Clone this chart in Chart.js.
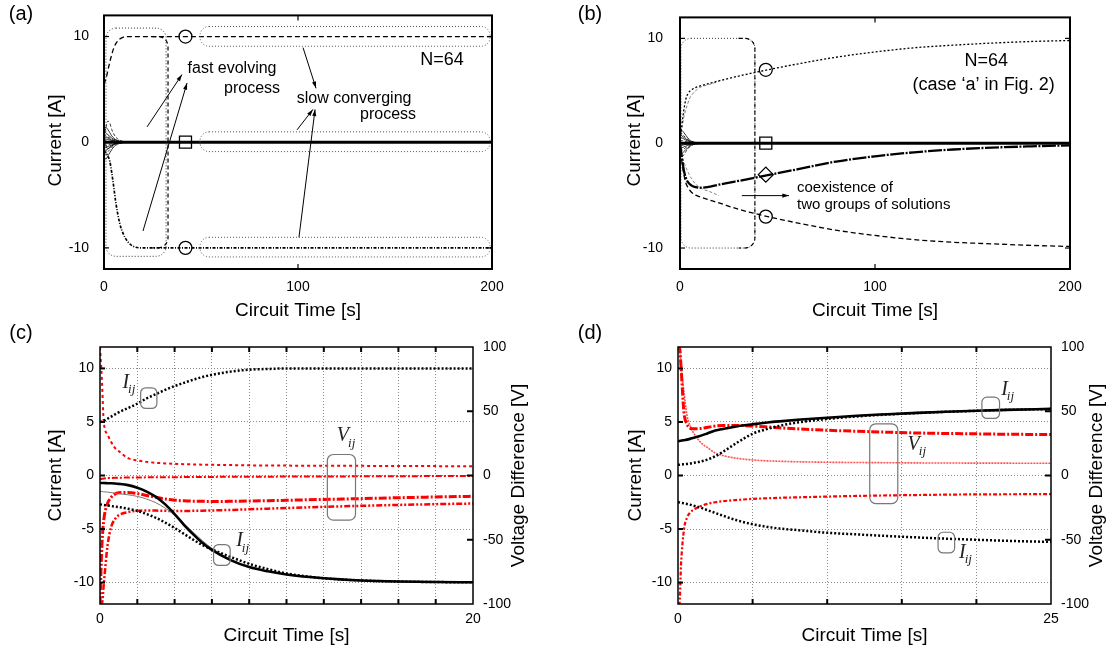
<!DOCTYPE html>
<html>
<head>
<meta charset="utf-8">
<title>Current and voltage transients</title>
<script src="https://cdn.jsdelivr.net/npm/chart.js@4.4.1/dist/chart.umd.min.js"></script>
<style>
  body { margin: 0; background: #fff; overflow: hidden; }
  .panel { position: absolute; }
</style>
</head>
<body>
<div class="panel" style="left:0;top:0;width:555px;height:330px"><canvas id="chartA"></canvas></div>
<div class="panel" style="left:555px;top:0;width:554px;height:330px"><canvas id="chartB"></canvas></div>
<div class="panel" style="left:0;top:310px;width:555px;height:341px"><canvas id="chartC"></canvas></div>
<div class="panel" style="left:555px;top:310px;width:554px;height:341px"><canvas id="chartD"></canvas></div>
<script>
// ---------- data ----------

// panel (a), N=64
const tA = [0, 1, 2, 3, 4, 5, 6, 8, 10, 12, 15, 20, 30, 50, 100, 150, 200];
const aUpper = [5.5, 6.0, 6.8, 7.6, 8.3, 8.9, 9.3, 9.75, 9.95, 10, 10, 10, 10, 10, 10, 10, 10];
const aLower = [-0.8, -1.0, -1.3, -1.8, -2.9, -4.2, -5.6, -7.6, -8.7, -9.35, -9.85, -10, -10, -10, -10, -10, -10];
const aZero = [0, 0, 0, 0, 0, 0, 0, 0, 0, 0, 0, 0, 0, 0, 0, 0, 0];

// early transients that die out near zero (a few of the 64)
const tT = [0, 1, 2, 3, 4, 5, 6, 8, 10, 12, 15, 20];
const aTrans = [
  [0.5, 1.4, 2.0, 1.8, 1.2, 0.8, 0.5, 0.2, 0.08, 0.03, 0, 0],
  [1.3, 1.4, 1.2, 0.9, 0.6, 0.4, 0.25, 0.1, 0.04, 0.01, 0, 0],
  [1.0, 0.9, 0.7, 0.55, 0.4, 0.3, 0.2, 0.08, 0.03, 0.01, 0, 0],
  [0.8, 0.6, 0.5, 0.4, 0.3, 0.2, 0.12, 0.05, 0.02, 0, 0, 0],
  [0.4, 0.5, 0.4, 0.3, 0.2, 0.15, 0.1, 0.04, 0.02, 0, 0, 0],
  [0.2, 0.3, 0.25, 0.2, 0.15, 0.1, 0.06, 0.03, 0.01, 0, 0, 0],
  [-0.2, -0.3, -0.25, -0.2, -0.15, -0.1, -0.06, -0.03, -0.01, 0, 0, 0],
  [-0.5, -0.5, -0.4, -0.35, -0.25, -0.18, -0.1, -0.05, -0.02, 0, 0, 0],
  [-0.9, -0.8, -0.65, -0.5, -0.35, -0.25, -0.15, -0.06, -0.02, 0, 0, 0],
  [-1.2, -1.1, -0.9, -0.7, -0.5, -0.35, -0.2, -0.08, -0.03, 0, 0, 0],
  [-1.5, -1.6, -1.3, -1.0, -0.7, -0.45, -0.3, -0.12, -0.05, -0.02, 0, 0],
  [0.9, -0.3, -0.6, -0.5, -0.35, -0.2, -0.12, -0.05, -0.02, 0, 0, 0]
];
const circAx = [42, 42];
const circAy = [10, -10];
const sqAx = [42];
const sqAy = [0];

// panel (b), N=64 case 'a'
const tB = [0, 1, 2, 3, 4, 6, 8, 10, 14, 20, 30, 45, 60, 80, 100, 120, 140, 160, 180, 200];
const bUpper = [0, 1.8, 3.2, 4.2, 4.7, 5.1, 5.3, 5.45, 5.65, 5.95, 6.4, 7.0, 7.55, 8.2, 8.7, 9.1, 9.35, 9.55, 9.7, 9.8];
const bLower = [0, -1.8, -3.0, -3.8, -4.2, -4.7, -4.95, -5.1, -5.35, -5.7, -6.3, -7.0, -7.6, -8.3, -8.8, -9.2, -9.45, -9.6, -9.75, -9.85];
const bMid = [0, -1.4, -2.6, -3.3, -3.7, -4.05, -4.2, -4.25, -4.2, -3.95, -3.6, -3.05, -2.5, -1.75, -1.25, -0.87, -0.6, -0.42, -0.3, -0.2];
const bZero = [0, 0, 0, 0, 0, 0, 0, 0, 0, 0, 0, 0, 0, 0, 0, 0, 0, 0, 0, 0];
const bTrans = [
  [1.1, 0.9, 0.7, 0.5, 0.35, 0.25, 0.15, 0.06, 0.02, 0.01, 0, 0],
  [0.8, 0.7, 0.55, 0.4, 0.3, 0.2, 0.12, 0.05, 0.02, 0, 0, 0],
  [0.5, 0.5, 0.4, 0.3, 0.2, 0.14, 0.08, 0.03, 0.01, 0, 0, 0],
  [0.2, 0.25, 0.2, 0.15, 0.1, 0.07, 0.04, 0.02, 0, 0, 0, 0],
  [-0.2, -0.2, -0.15, -0.12, -0.08, -0.05, -0.03, -0.01, 0, 0, 0, 0],
  [-0.5, -0.45, -0.35, -0.28, -0.2, -0.13, -0.08, -0.03, -0.01, 0, 0, 0],
  [-0.8, -0.7, -0.55, -0.42, -0.3, -0.2, -0.12, -0.05, -0.02, 0, 0, 0],
  [-1.1, -1.0, -0.8, -0.6, -0.45, -0.3, -0.18, -0.07, -0.03, -0.01, 0, 0],
  [0.9, 1.2, 1.0, 0.75, 0.5, 0.3, 0.18, 0.07, 0.03, 0.01, 0, 0],
  [-0.9, -1.3, -1.1, -0.8, -0.55, -0.35, -0.2, -0.08, -0.03, -0.01, 0, 0]
];
const bGhostUp = [0.5, 1.5, 2.5, 3.2, 3.8, 4.3, 4.6, 5.0, 5.3, 5.45, 5.6, 5.9];
const bGhostDown = [-0.5, -1.2, -1.8, -2.3, -2.7, -3.1, -3.4, -3.9, -4.2, -4.4, -4.6, -5.0];
const circBx = [44, 44];
const circBy = [7, -7];
const sqBx = [44];
const sqBy = [0];
const diaBx = [44];
const diaBy = [-3];

// panel (c): currents [A] and voltage differences [V]
const tC = [0, 0.1, 0.2, 0.4, 0.6, 0.8, 1, 1.5, 2, 2.5, 3, 3.5, 4, 4.5, 5, 5.5, 6, 7, 8, 9, 10, 12, 14, 16, 18, 20];
const cUp = [5.0, 5.05, 5.1, 5.3, 5.5, 5.7, 5.9, 6.3, 6.7, 7.2, 7.6, 8.0, 8.35, 8.65, 8.95, 9.2, 9.4, 9.7, 9.88, 9.95, 10, 10, 10, 10, 10, 10];
const cSolid = [-0.7, -0.7, -0.7, -0.72, -0.73, -0.75, -0.78, -0.9, -1.15, -1.5, -2.0, -2.7, -3.6, -4.6, -5.5, -6.3, -6.95, -7.9, -8.55, -8.95, -9.25, -9.6, -9.8, -9.9, -9.95, -9.97];
const cThin = [-1.5, -1.5, -1.52, -1.55, -1.6, -1.65, -1.7, -1.8, -1.95, -2.2, -2.55, -3.05, -3.7, -4.5, -5.3, -6.1, -6.8, -7.85, -8.55, -8.95, -9.25, -9.6, -9.8, -9.9, -9.95, -9.97];
const cDot = [-2.7, -2.72, -2.75, -2.8, -2.85, -2.9, -2.95, -3.1, -3.3, -3.6, -3.95, -4.4, -4.9, -5.45, -6.0, -6.5, -6.9, -7.6, -8.25, -8.75, -9.15, -9.6, -9.8, -9.9, -9.95, -9.97];
const cV1 = [100, 75, 42, 32, 26, 21.5, 19, 13.5, 11.8, 10.6, 9.9, 9.4, 9.1, 8.8, 8.6, 8.4, 8.3, 8.1, 7.9, 7.8, 7.7, 7.6, 7.5, 7.4, 7.3, 7.2];
const cV2 = [-3, -2.6, -2.3, -2.0, -1.9, -1.8, -1.7, -1.6, -1.5, -1.45, -1.4, -1.35, -1.3, -1.25, -1.2, -1.15, -1.1, -1.0, -0.95, -0.9, -0.85, -0.75, -0.65, -0.55, -0.45, -0.4];
const cV3 = [-100, -55, -35, -22, -17, -14.5, -13.5, -13.2, -14, -15.5, -17, -18.3, -19.2, -19.7, -20, -20.1, -20.2, -20.1, -19.9, -19.6, -19.3, -18.6, -18, -17.3, -16.7, -16.2];
const cV4 = [-100, -100, -85, -55, -40, -34, -31, -28.5, -27.5, -27.2, -27.3, -27.5, -27.6, -27.6, -27.5, -27.4, -27.2, -26.8, -26.3, -25.8, -25.3, -24.4, -23.6, -22.9, -22.3, -21.8];

// panel (d)
const tD = [0, 0.1, 0.2, 0.4, 0.6, 0.8, 1, 1.5, 2, 2.5, 3, 4, 5, 6, 7, 8, 10, 12, 14, 16, 18, 20, 22, 25];
const dSolid = [3.2, 3.22, 3.25, 3.3, 3.35, 3.42, 3.5, 3.7, 3.95, 4.2, 4.35, 4.6, 4.78, 4.95, 5.08, 5.2, 5.4, 5.58, 5.72, 5.85, 5.96, 6.05, 6.13, 6.22];
const dDot = [1.0, 1.0, 1.02, 1.05, 1.08, 1.12, 1.17, 1.3, 1.5, 1.8, 2.2, 3.1, 3.9, 4.35, 4.7, 4.95, 5.28, 5.52, 5.69, 5.83, 5.95, 6.04, 6.13, 6.2];
const dLow = [-2.5, -2.52, -2.55, -2.6, -2.66, -2.72, -2.8, -3.0, -3.25, -3.5, -3.75, -4.2, -4.55, -4.8, -4.98, -5.1, -5.35, -5.5, -5.65, -5.78, -5.9, -6.0, -6.1, -6.2];
const dV1 = [100, 100, 85, 49, 40, 37, 36.3, 36.5, 37.5, 38.5, 38.9, 38.9, 38.5, 37.8, 37, 36.3, 35.2, 34.4, 33.7, 33.1, 32.7, 32.4, 32.1, 31.9];
const dV2 = [100, 100, 85, 65, 47, 39, 34, 26, 21.5, 17.5, 15.5, 13.3, 12.1, 11.4, 11, 10.7, 10.3, 10.1, 9.95, 9.8, 9.7, 9.65, 9.6, 9.5];
const dV3 = [-100, -100, -70, -42, -33, -29, -27, -24, -22, -20.8, -20, -19, -18.2, -17.7, -17.3, -17, -16.4, -15.9, -15.5, -15.2, -14.9, -14.7, -14.6, -14.5];

// ticks
const abXTicks = [0, 100, 200];
const abYTicks = [-10, 0, 10];
const cXTicks = [0, 2, 4, 6, 8, 10, 12, 14, 16, 18, 20];
const cXLabels = [0, 20];
const dXTicks = [0, 5, 10, 15, 20, 25];
const dXLabels = [0, 25];
const cdYTicks = [-10, -5, 0, 5, 10];
const vTicks = [-100, -50, 0, 50, 100];

// ---------- chart setup ----------
Chart.defaults.font.family = '"Liberation Sans", Arial, sans-serif';
Chart.defaults.font.size = 14;
Chart.defaults.color = '#000';
Chart.defaults.animation = false;
Chart.defaults.events = [];
Chart.defaults.plugins.legend.display = false;
Chart.defaults.plugins.tooltip.enabled = false;

const FONT = '"Liberation Sans", Arial, sans-serif';
const SERIF = '"Liberation Serif", "DejaVu Serif", serif';

function xy(xs, ys) {
  return xs.map((x, i) => ({ x: x, y: ys[i] }));
}

function curve(xs, ys, color, width, dash, axis) {
  return {
    data: xy(xs, ys),
    borderColor: color,
    borderWidth: width,
    borderDash: dash || [],
    pointRadius: 0,
    fill: false,
    cubicInterpolationMode: 'monotone',
    yAxisID: axis || 'y'
  };
}

function marks(xs, ys, style, r) {
  return {
    data: xy(xs, ys),
    showLine: false,
    pointStyle: style,
    pointRadius: r,
    pointBorderWidth: 1.3,
    pointBorderColor: '#000',
    pointBackgroundColor: 'rgba(0,0,0,0)'
  };
}

function roundPath(ctx, xa, ya, xb, yb, r, side) {
  const l = Math.min(xa, xb), rt = Math.max(xa, xb);
  const t = Math.min(ya, yb), b = Math.max(ya, yb);
  if (side === 'right') {
    ctx.moveTo(l, t);
    ctx.arcTo(rt, t, rt, b, r);
    ctx.arcTo(rt, b, l, b, r);
    ctx.lineTo(l, b);
    return;
  }
  ctx.moveTo(l + r, t);
  ctx.arcTo(rt, t, rt, b, r);
  ctx.arcTo(rt, b, l, b, r);
  ctx.arcTo(l, b, l, t, r);
  ctx.arcTo(l, t, rt, t, r);
  ctx.closePath();
}

// frame, inward ticks, titles and the annotations
function decor(spec) {
  return {
    id: 'decor',
    afterDraw(chart) {
      const ctx = chart.ctx;
      const a = chart.chartArea;
      const sx = chart.scales.x, sy = chart.scales.y, sv = chart.scales.y2;
      const X = v => sx.getPixelForValue(v);
      const Y = v => sy.getPixelForValue(v);
      const seg = (x0, y0, x1, y1) => { ctx.beginPath(); ctx.moveTo(x0, y0); ctx.lineTo(x1, y1); ctx.stroke(); };
      ctx.save();

      (spec.rects || []).forEach(r => {
        ctx.beginPath();
        ctx.setLineDash(r.dash || []);
        ctx.lineWidth = r.lw || 1;
        ctx.strokeStyle = r.color || '#000';
        roundPath(ctx, X(r.x0), Y(r.y0), X(r.x1), Y(r.y1), r.r, r.side);
        ctx.stroke();
      });

      ctx.setLineDash([]);
      ctx.strokeStyle = '#000';
      ctx.fillStyle = '#000';
      (spec.arrows || []).forEach(p => {
        const x0 = X(p.x0), y0 = Y(p.y0), x1 = X(p.x1), y1 = Y(p.y1);
        ctx.lineWidth = 1;
        seg(x0, y0, x1, y1);
        const ang = Math.atan2(y1 - y0, x1 - x0);
        ctx.beginPath();
        ctx.moveTo(x1, y1);
        ctx.lineTo(x1 - 7 * Math.cos(ang - 0.3), y1 - 7 * Math.sin(ang - 0.3));
        ctx.lineTo(x1 - 7 * Math.cos(ang + 0.3), y1 - 7 * Math.sin(ang + 0.3));
        ctx.closePath();
        ctx.fill();
      });

      // frame
      ctx.lineWidth = spec.frame;
      ctx.strokeRect(a.left, a.top, a.right - a.left, a.bottom - a.top);

      // inward tick marks
      ctx.lineWidth = spec.tickW;
      sx.ticks.forEach(t => {
        const px = X(t.value);
        if (px < a.left + 2 || px > a.right - 2) return;
        seg(px, a.bottom, px, a.bottom - 5);
        seg(px, a.top, px, a.top + 5);
      });
      sy.ticks.forEach(t => {
        const py = Y(t.value);
        seg(a.left, py, a.left + 5, py);
        if (!sv) seg(a.right, py, a.right - 5, py);
      });
      if (sv) {
        sv.ticks.forEach(t => {
          const py = sv.getPixelForValue(t.value);
          if (py < a.top + 2 || py > a.bottom - 2) return;
          seg(a.right, py, a.right - 6, py);
        });
      }

      ctx.textBaseline = 'middle';
      (spec.texts || []).forEach(t => {
        ctx.font = t.size + 'px ' + FONT;
        ctx.textAlign = t.align || 'center';
        ctx.fillText(t.text, X(t.x), Y(t.y));
      });

      ctx.fillStyle = '#222';
      (spec.syms || []).forEach(s => {
        const px = X(s.x), py = Y(s.y);
        ctx.textAlign = 'left';
        ctx.font = 'italic 20px ' + SERIF;
        ctx.fillText(s.main, px, py);
        const w = ctx.measureText(s.main).width;
        ctx.font = 'italic 13px ' + SERIF;
        ctx.fillText(s.sub, px + w - 1, py + 7);
      });

      ctx.fillStyle = '#000';
      ctx.textAlign = 'center';
      (spec.titles || []).forEach(t => {
        ctx.save();
        ctx.translate(t.px, t.py);
        if (t.rot) ctx.rotate(-Math.PI / 2);
        ctx.font = t.size + 'px ' + FONT;
        ctx.fillText(t.text, 0, 0);
        ctx.restore();
      });
      ctx.restore();
    }
  };
}

function scalesFor(box, xmax, xTicks, xLabels, yTicks, withGrid, withV) {
  const gridColor = '#8a8a8a';
  const sc = {
    x: {
      type: 'linear', min: 0, max: xmax,
      afterBuildTicks: s => { s.ticks = xTicks.map(v => ({ value: v })); },
      afterFit: s => { s.height = box.h - box.bottom; },
      ticks: { padding: box.xpad, maxRotation: 0, autoSkip: false,
               callback: v => (xLabels.includes(v) ? v : '') },
      grid: withGrid
        ? { drawTicks: false, color: c => (c.tick && c.tick.value > 0 && c.tick.value < xmax ? gridColor : 'rgba(0,0,0,0)') }
        : { display: false },
      border: { display: false, dash: [1, 2] }
    },
    y: {
      min: -12, max: 12,
      afterBuildTicks: s => { s.ticks = yTicks.map(v => ({ value: v })); },
      afterFit: s => { s.width = box.left; },
      ticks: { padding: box.ypad },
      grid: withGrid ? { drawTicks: false, color: gridColor } : { display: false },
      border: { display: false, dash: [1, 2] }
    }
  };
  if (withV) {
    sc.y2 = {
      position: 'right', min: -100, max: 100,
      afterBuildTicks: s => { s.ticks = vTicks.map(v => ({ value: v })); },
      afterFit: s => { s.width = box.w - box.right; },
      ticks: { padding: 2 },
      grid: { display: false },
      border: { display: false }
    };
  }
  return sc;
}

const boxA = { w: 555, h: 330, left: 104, right: 492, top: 12, bottom: 269, xpad: 2, ypad: 7 };
const boxB = { w: 554, h: 330, left: 125, right: 515, top: 12, bottom: 269, xpad: 2, ypad: 9 };
const boxC = { w: 555, h: 341, left: 100, right: 473, top: 37, bottom: 294, xpad: 7, ypad: 6 };
const boxD = { w: 554, h: 341, left: 123, right: 496, top: 37, bottom: 294, xpad: 7, ypad: 6 };

function pad(box, withV) {
  return { top: box.top, left: 0, bottom: 0, right: withV ? 0 : box.w - box.right };
}

// (a)
new Chart(document.getElementById('chartA'), {
  type: 'line',
  data: {
    datasets: [
      marks(circAx, circAy, 'circle', 6.5),
      marks(sqAx, sqAy, 'rect', 8.5),
      curve(tA, aZero, '#000', 3),
      curve(tA, aUpper, '#000', 1.3, [5, 3]),
      curve(tA, aLower, '#000', 1.7, [3, 1.5, 1, 1.5])
    ].concat(aTrans.map((v, i) => curve(tT, v, '#000', 0.8, i % 3 === 0 ? [3, 2] : [])))
  },
  options: {
    responsive: true, maintainAspectRatio: false,
    layout: { padding: pad(boxA, false) },
    scales: scalesFor(boxA, 200, abXTicks, abXTicks, abYTicks, false, false)
  },
  plugins: [decor({
    frame: 2, tickW: 1.2,
    rects: [
      { x0: 1, x1: 32, y0: 10.8, y1: -10.8, r: 10, dash: [1, 2], color: '#333' },
      { x0: 25, x1: 33, y0: 10, y1: -10, r: 10, dash: [4, 3], side: 'right', lw: 1.2 },
      { x0: 49.5, x1: 199, y0: 10.95, y1: 9.08, r: 9, dash: [1, 2], color: '#555' },
      { x0: 49.5, x1: 199, y0: 0.98, y1: -0.89, r: 9, dash: [1, 2], color: '#555' },
      { x0: 49.5, x1: 199, y0: -9.0, y1: -10.86, r: 9, dash: [1, 2], color: '#555' }
    ],
    arrows: [
      { x0: 22.2, y0: 1.45, x1: 40.2, y1: 6.4 },
      { x0: 20.1, y0: -8.4, x1: 42.8, y1: 5.6 },
      { x0: 102.6, y0: 8.95, x1: 109.3, y1: 5.1 },
      { x0: 99.5, y0: 1.17, x1: 107.7, y1: 3.1 },
      { x0: 100.5, y0: -9.0, x1: 108.8, y1: 3.1 }
    ],
    texts: [
      { x: 66, y: 7.0, text: 'fast evolving', size: 16 },
      { x: 76.3, y: 5.1, text: 'process', size: 16 },
      { x: 128.9, y: 4.16, text: 'slow converging', size: 16 },
      { x: 146.4, y: 2.57, text: 'process', size: 16 },
      { x: 174.2, y: 7.8, text: 'N=64', size: 18 }
    ],
    titles: [
      { text: 'Current [A]', px: 56, py: 140.5, rot: true, size: 19 },
      { text: 'Circuit Time [s]', px: 298, py: 311, size: 19 },
      { text: '(a)', px: 21, py: 14, size: 20 }
    ]
  })]
});

// (b)
new Chart(document.getElementById('chartB'), {
  type: 'line',
  data: {
    datasets: [
      marks(circBx, circBy, 'circle', 6.5),
      marks(sqBx, sqBy, 'rect', 8.5),
      marks(diaBx, diaBy, 'rectRot', 7.5),
      curve(tB, bZero, '#000', 3),
      curve(tB, bMid, '#000', 2.3, [14, 1.5, 2, 1.5]),
      curve(tB, bUpper, '#000', 1.3, [2, 2]),
      curve(tB, bLower, '#000', 1.3, [5, 3]),
      curve(tT, bGhostUp, '#666', 0.8, [3, 2]),
      curve(tT, bGhostDown, '#666', 0.8, [3, 2])
    ].concat(bTrans.map((v, i) => curve(tT, v, '#000', 0.8, i % 3 === 0 ? [3, 2] : [])))
  },
  options: {
    responsive: true, maintainAspectRatio: false,
    layout: { padding: pad(boxB, false) },
    scales: scalesFor(boxB, 200, abXTicks, abXTicks, abYTicks, false, false)
  },
  plugins: [decor({
    frame: 2, tickW: 1.2,
    rects: [
      { x0: 0.5, x1: 38.4, y0: 10, y1: -10, r: 10, dash: [1, 2], color: '#333' },
      { x0: 30, x1: 38.4, y0: 10, y1: -10, r: 10, dash: [4, 3], side: 'right', lw: 1.1 }
    ],
    arrows: [
      { x0: 31.7, y0: -5.0, x1: 55.9, y1: -5.0 }
    ],
    texts: [
      { x: 157, y: 7.8, text: 'N=64', size: 18 },
      { x: 155.7, y: 5.58, text: '(case \u2018a\u2019 in Fig. 2)', size: 18 },
      { x: 60, y: -4.24, text: 'coexistence of', size: 15, align: 'left' },
      { x: 60, y: -5.86, text: 'two groups of solutions', size: 15, align: 'left' }
    ],
    titles: [
      { text: 'Current [A]', px: 80, py: 140.5, rot: true, size: 19 },
      { text: 'Circuit Time [s]', px: 320, py: 311, size: 19 },
      { text: '(b)', px: 35, py: 14, size: 20 }
    ]
  })]
});

// (c)
new Chart(document.getElementById('chartC'), {
  type: 'line',
  data: {
    datasets: [
      curve(tC, cUp, '#000', 2.5, [2, 2]),
      curve(tC, cSolid, '#000', 2.6),
      curve(tC, cThin, '#777', 1),
      curve(tC, cDot, '#000', 2.5, [2, 2]),
      curve(tC, cV1, '#ff0000', 2, [3, 3], 'y2'),
      curve(tC, cV2, '#ff0000', 2, [6, 2, 2, 2], 'y2'),
      curve(tC, cV3, '#ff0000', 3, [8, 2, 2, 2], 'y2'),
      curve(tC, cV4, '#ff0000', 2.5, [6, 2, 2, 2, 2, 2], 'y2')
    ]
  },
  options: {
    responsive: true, maintainAspectRatio: false,
    layout: { padding: pad(boxC, true) },
    scales: scalesFor(boxC, 20, cXTicks, cXLabels, cdYTicks, true, true)
  },
  plugins: [decor({
    frame: 1.5, tickW: 2,
    rects: [
      { x0: 2.18, x1: 3.05, y0: 8.19, y1: 6.26, r: 5, color: '#777', lw: 1.2 },
      { x0: 12.19, x1: 13.7, y0: 1.96, y1: -4.17, r: 6, color: '#777', lw: 1.2 },
      { x0: 6.09, x1: 6.98, y0: -6.45, y1: -8.4, r: 5, color: '#777', lw: 1.2 }
    ],
    syms: [
      { x: 1.2, y: 8.66, main: 'I', sub: 'ij' },
      { x: 12.7, y: 3.68, main: 'V', sub: 'ij' },
      { x: 7.3, y: -6.14, main: 'I', sub: 'ij' }
    ],
    titles: [
      { text: 'Current [A]', px: 56, py: 165.5, rot: true, size: 19 },
      { text: 'Circuit Time [s]', px: 286.5, py: 326, size: 19 },
      { text: 'Voltage Difference [V]', px: 519, py: 165.5, rot: true, size: 19 },
      { text: '(c)', px: 21, py: 23, size: 20 }
    ]
  })]
});

// (d)
new Chart(document.getElementById('chartD'), {
  type: 'line',
  data: {
    datasets: [
      curve(tD, dSolid, '#000', 2.6),
      curve(tD, dDot, '#000', 2.5, [2, 2]),
      curve(tD, dLow, '#000', 2.5, [2, 2]),
      curve(tD, dV1, '#ff0000', 3, [8, 2, 2, 2], 'y2'),
      curve(tD, dV2, '#ff5050', 1.6, [2, 1], 'y2'),
      curve(tD, dV3, '#ff0000', 2.2, [4, 2, 2, 2], 'y2')
    ]
  },
  options: {
    responsive: true, maintainAspectRatio: false,
    layout: { padding: pad(boxD, true) },
    scales: scalesFor(boxD, 25, dXTicks, dXLabels, cdYTicks, true, true)
  },
  plugins: [decor({
    frame: 1.5, tickW: 2,
    rects: [
      { x0: 20.37, x1: 21.55, y0: 7.32, y1: 5.33, r: 5, color: '#777', lw: 1.2 },
      { x0: 12.85, x1: 14.73, y0: 4.83, y1: -2.62, r: 6, color: '#777', lw: 1.2 },
      { x0: 17.43, x1: 18.54, y0: -5.3, y1: -7.23, r: 5, color: '#777', lw: 1.2 }
    ],
    syms: [
      { x: 21.66, y: 8.04, main: 'I', sub: 'ij' },
      { x: 15.39, y: 2.9, main: 'V', sub: 'ij' },
      { x: 18.84, y: -7.23, main: 'I', sub: 'ij' }
    ],
    titles: [
      { text: 'Current [A]', px: 81, py: 165.5, rot: true, size: 19 },
      { text: 'Circuit Time [s]', px: 309.5, py: 326, size: 19 },
      { text: 'Voltage Difference [V]', px: 542, py: 165.5, rot: true, size: 19 },
      { text: '(d)', px: 35, py: 23, size: 20 }
    ]
  })]
});
</script>
</body>
</html>
